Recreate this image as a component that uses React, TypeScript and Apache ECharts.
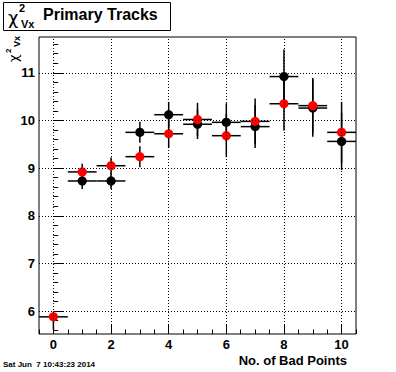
import React, { useEffect, useRef } from "react";
import * as echarts from "echarts";

const xVals = [0, 1, 2, 3, 4, 5, 6, 7, 8, 9, 10];
const blackY: (number | null)[] = [null, 8.73, 8.73, 9.75, 10.12, 9.92, 9.96, 9.87, 10.92, 10.26, 9.56];
const blackErr = [0, 0.17, 0.17, 0.22, 0.27, 0.31, 0.4, 0.45, 0.57, 0.6, 0.6];
const redY = [5.88, 8.92, 9.05, 9.24, 9.72, 10.02, 9.68, 9.98, 10.35, 10.31, 9.75];
const redErrLow = [0.27, 0.17, 0.17, 0.22, 0.3, 0.35, 0.45, 0.48, 0.56, 0.58, 0.64];
const redErrHigh = [0.0, 0.17, 0.17, 0.22, 0.3, 0.35, 0.45, 0.48, 0.56, 0.58, 0.64];
const xErr = 0.5;

const xMajorTicks = [0, 2, 4, 6, 8, 10];
const yMajorTicks = [6, 7, 8, 9, 10, 11];

const X_MIN = -0.5;
const X_MAX = 10.5;
const Y_MIN = 5.52;
const Y_MAX = 11.75;

const FONT = "Liberation Sans, Arial, Helvetica, sans-serif";

function minorTicks(from: number, to: number, step: number) {
  const out: number[] = [];
  const n = Math.round((to - from) / step);
  for (let i = 0; i <= n; i++) out.push(+(from + i * step).toFixed(4));
  return out;
}

function makeRender(color: string) {
  return (params: any, api: any) => {
    const x = api.value(0);
    const y = api.value(1);
    const ex = api.value(2);
    const eyLow = api.value(3);
    const eyHigh = api.value(4);
    const c = api.coord([x, y]);
    const l = api.coord([x - ex, y]);
    const r = api.coord([x + ex, y]);
    const t = api.coord([x, y + eyHigh]);
    const b = api.coord([x, y - eyLow]);
    const ls = { stroke: "#000", lineWidth: 1.5 };
    return {
      type: "group",
      children: [
        { type: "line", shape: { x1: l[0], y1: c[1], x2: r[0], y2: c[1] }, style: ls },
        { type: "line", shape: { x1: c[0], y1: t[1], x2: c[0], y2: b[1] }, style: ls },
        { type: "circle", shape: { cx: c[0], cy: c[1], r: 4.6 }, style: { fill: color } },
      ],
    };
  };
}

export default function App() {
  const ref = useRef<HTMLDivElement>(null);
  useEffect(() => {
    if (!ref.current) return;
    const chart = echarts.init(ref.current, null, { renderer: "svg" });
    const blackData = xVals
      .map((x, i) => (blackY[i] == null ? null : [x, blackY[i], xErr, blackErr[i], blackErr[i]]))
      .filter((d) => d !== null);
    const redData = xVals.map((x, i) => [x, redY[i], xErr, redErrLow[i], redErrHigh[i]]);
    const labelStyle = { color: "#000", fontFamily: FONT, fontWeight: "bold" as const, fontSize: 13 };
    const gridLines = [
      ...xMajorTicks.map((v) => ({ xAxis: v })),
      ...yMajorTicks.map((v) => ({ yAxis: v })),
    ];
    const option: any = {
      animation: false,
      backgroundColor: "#fff",
      grid: {
        left: 39,
        right: 40,
        top: 37,
        bottom: 38,
        show: true,
        borderColor: "#000",
        borderWidth: 1,
        backgroundColor: "transparent",
        containLabel: false,
      },
      xAxis: [
        {
          type: "value",
          min: X_MIN,
          max: X_MAX,
          position: "bottom",
          axisLine: { show: false },
          splitLine: { show: false },
          axisTick: { show: true, inside: true, length: 9, customValues: xMajorTicks, lineStyle: { color: "#000", width: 1 } },
          axisLabel: { show: true, customValues: xMajorTicks, margin: 4, ...labelStyle },
        },
        {
          type: "value",
          min: X_MIN,
          max: X_MAX,
          position: "bottom",
          offset: 0,
          axisLine: { show: false },
          splitLine: { show: false },
          axisLabel: { show: false },
          axisTick: { show: true, inside: true, length: 4.5, customValues: minorTicks(-0.5, 10.5, 0.5), lineStyle: { color: "#000", width: 1 } },
        },
      ],
      yAxis: [
        {
          type: "value",
          min: Y_MIN,
          max: Y_MAX,
          position: "left",
          axisLine: { show: false },
          splitLine: { show: false },
          axisTick: { show: true, inside: true, length: 9.5, customValues: yMajorTicks, lineStyle: { color: "#000", width: 1 } },
          axisLabel: { show: true, customValues: yMajorTicks, margin: 4, ...labelStyle },
        },
        {
          type: "value",
          min: Y_MIN,
          max: Y_MAX,
          position: "left",
          offset: 0,
          axisLine: { show: false },
          splitLine: { show: false },
          axisLabel: { show: false },
          axisTick: { show: true, inside: true, length: 4.75, customValues: minorTicks(5.6, 11.6, 0.2), lineStyle: { color: "#000", width: 1 } },
        },
      ],
      series: [
        {
          type: "scatter",
          xAxisIndex: 0,
          yAxisIndex: 0,
          data: [],
          z: 1,
          silent: true,
          markLine: {
            silent: true,
            animation: false,
            symbol: ["none", "none"],
            label: { show: false },
            emphasis: { disabled: true },
            lineStyle: { color: "#000", width: 1, type: [1, 2] },
            data: gridLines,
          },
        },
        {
          type: "custom",
          xAxisIndex: 0,
          yAxisIndex: 0,
          z: 3,
          renderItem: makeRender("#000"),
          data: blackData,
          silent: true,
        },
        {
          type: "custom",
          xAxisIndex: 0,
          yAxisIndex: 0,
          z: 4,
          renderItem: makeRender("#ff0000"),
          data: redData,
          silent: true,
        },
      ],
      graphic: {
        elements: [
          {
            type: "rect",
            shape: { x: 3.5, y: 2.5, width: 167, height: 28 },
            style: { fill: "#fff", stroke: "#000", lineWidth: 1 },
          },
          {
            type: "text",
            x: 8,
            y: 17,
            style: { text: "χ", fontSize: 18, fontFamily: "DejaVu Sans, sans-serif", fill: "#000", verticalAlign: "middle", align: "left" },
          },
          {
            type: "text",
            x: 19,
            y: 8,
            style: { text: "2", fontSize: 11, fontWeight: "bold", fontFamily: FONT, fill: "#000", verticalAlign: "middle", align: "left" },
          },
          {
            type: "text",
            x: 21,
            y: 24,
            style: { text: "Vx", fontSize: 11, fontWeight: "bold", fontFamily: FONT, fill: "#000", verticalAlign: "middle", align: "left" },
          },
          {
            type: "text",
            x: 43,
            y: 14,
            style: { text: "Primary Tracks", fontSize: 16, fontWeight: "bold", fontFamily: FONT, fill: "#000", verticalAlign: "middle", align: "left" },
          },
          {
            type: "group",
            x: 13,
            y: 62,
            rotation: Math.PI / 2,
            children: [
              {
                type: "text",
                x: 0,
                y: 0,
                style: { text: "χ", fontSize: 13, fontFamily: "DejaVu Sans, sans-serif", fill: "#000", verticalAlign: "middle", align: "left" },
              },
              {
                type: "text",
                x: 9,
                y: -5,
                style: { text: "2", fontSize: 8, fontWeight: "bold", fontFamily: FONT, fill: "#000", verticalAlign: "middle", align: "left" },
              },
              {
                type: "text",
                x: 15,
                y: 4,
                style: { text: "Vx", fontSize: 9, fontWeight: "bold", fontFamily: FONT, fill: "#000", verticalAlign: "middle", align: "left" },
              },
            ],
          },
          {
            type: "text",
            x: 347,
            y: 360,
            style: { text: "No. of Bad Points", fontSize: 13, fontWeight: "bold", fontFamily: FONT, fill: "#000", verticalAlign: "middle", align: "right" },
          },
          {
            type: "text",
            x: 3,
            y: 364,
            style: { text: "Sat Jun  7 10:43:23 2014", fontSize: 8, fontWeight: "bold", fontFamily: FONT, fill: "#000", verticalAlign: "middle", align: "left" },
          },
        ],
      },
    };
    chart.setOption(option);
    return () => chart.dispose();
  }, []);
  return (
    <div
      ref={ref}
      style={{ position: "fixed", left: 0, top: 0, width: 396, height: 372, background: "#fff" }}
    />
  );
}
